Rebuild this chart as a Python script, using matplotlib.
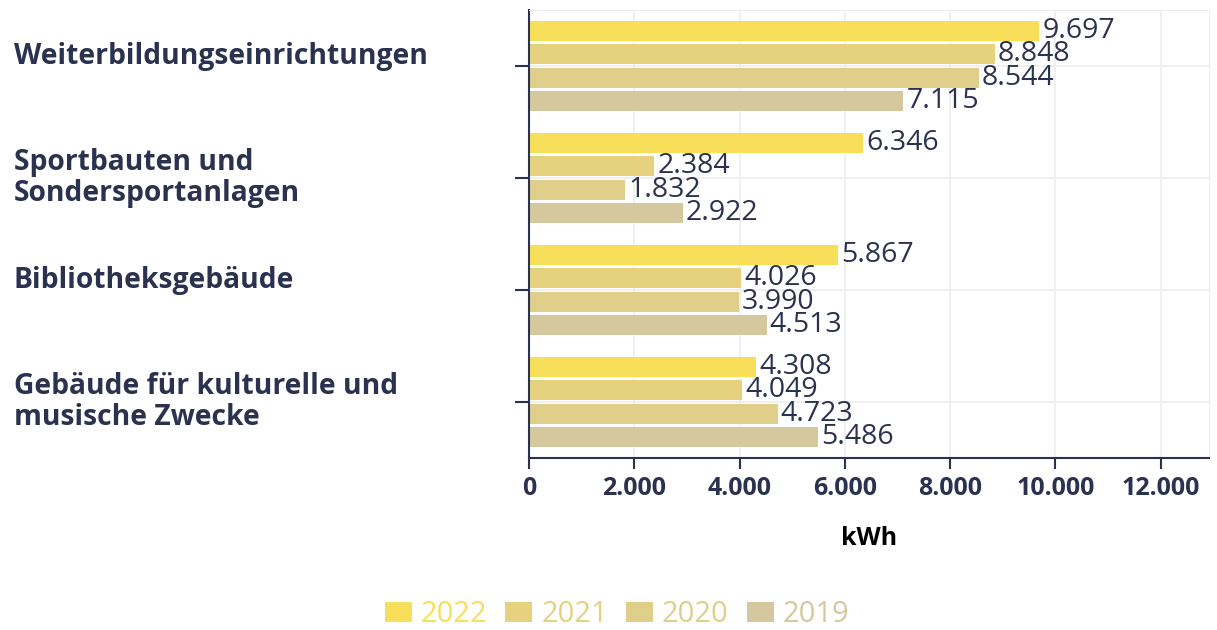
import numpy as np
import matplotlib.pyplot as plt
import matplotlib.transforms as mtransforms

# Daten
kategorien = ["Weiterbildungseinrichtungen",
              "Sportbauten und\nSondersportanlagen",
              "Bibliotheksgebäude",
              "Gebäude für kulturelle und\nmusische Zwecke"]
jahre = ["2022", "2021", "2020", "2019"]
werte_2022 = [9697, 6346, 5867, 4308]
werte_2021 = [8848, 2384, 4026, 4049]
werte_2020 = [8544, 1832, 3990, 4723]
werte_2019 = [7115, 2922, 4513, 5486]
x_ticks = [0, 2000, 4000, 6000, 8000, 10000, 12000]
x_labels = ["0", "2.000", "4.000", "6.000", "8.000", "10.000", "12.000"]

farben = ["#f7df5a", "#e6d27e", "#e0cf8b", "#d5c89e"]
dunkel = "#2a3250"

plt.rcParams['font.family'] = ['Open Sans', 'DejaVu Sans']

fig = plt.figure(figsize=(12.17, 6.3), dpi=100)
ax = fig.add_axes([529 / 1217, 1 - 458 / 630, (1209 - 529) / 1217, (458 - 10) / 630])

y = np.arange(len(kategorien))
schritt = 0.21
hoehe = 0.18
serien = [werte_2022, werte_2021, werte_2020, werte_2019]
for i, (werte, jahr, farbe) in enumerate(zip(serien, jahre, farben)):
    pos = y + (i - 1.5) * schritt
    ax.barh(pos, werte, height=hoehe, color=farbe, label=jahr, zorder=2)
    for p, w in zip(pos, werte):
        txt = f"{w:,}".replace(",", ".")
        ax.text(w + 60, p, txt, va='center', ha='left', fontsize=20.5,
                color=dunkel, zorder=3)

ax.set_xlim(0, 12920)
ax.set_ylim(3.5, -0.5)
ax.set_xticks(x_ticks)
ax.set_xticklabels(x_labels, fontsize=18, fontweight='bold', color=dunkel)
ax.set_yticks(y)
ax.set_yticklabels([])
ax.tick_params(axis='x', length=8, width=1.5, color=dunkel, pad=5)
ax.tick_params(axis='y', length=10, width=1.5, color=dunkel)
ax.grid(True, color="#eeeeee", linewidth=1.2, zorder=0)
ax.set_axisbelow(True)

for s in ['top', 'right']:
    ax.spines[s].set_color("#eeeeee")
for s in ['left', 'bottom']:
    ax.spines[s].set_color(dunkel)
    ax.spines[s].set_linewidth(1.5)

# Kategorienamen linksbündig am Bildrand
trans = mtransforms.blended_transform_factory(fig.transFigure, ax.transData)
for yy, kat in zip(y, kategorien):
    verschub = 0 if "\n" in kat else -0.085
    ax.text(14 / 1217, yy + verschub, kat, transform=trans, fontsize=20.3,
            fontweight='bold', color=dunkel, va='center', ha='left',
            linespacing=1.1)

ax.set_xlabel("kWh", fontsize=18, fontweight='bold', color='black', labelpad=18)

leg = fig.legend(loc='lower center', bbox_to_anchor=(0.507, -0.04), ncol=4,
                 frameon=False, fontsize=21, handlelength=0.93, handleheight=0.7,
                 handletextpad=0.3, columnspacing=0.62)
for t, f in zip(leg.get_texts(), farben):
    t.set_color(f)

fig.savefig("out.png", dpi=100)
